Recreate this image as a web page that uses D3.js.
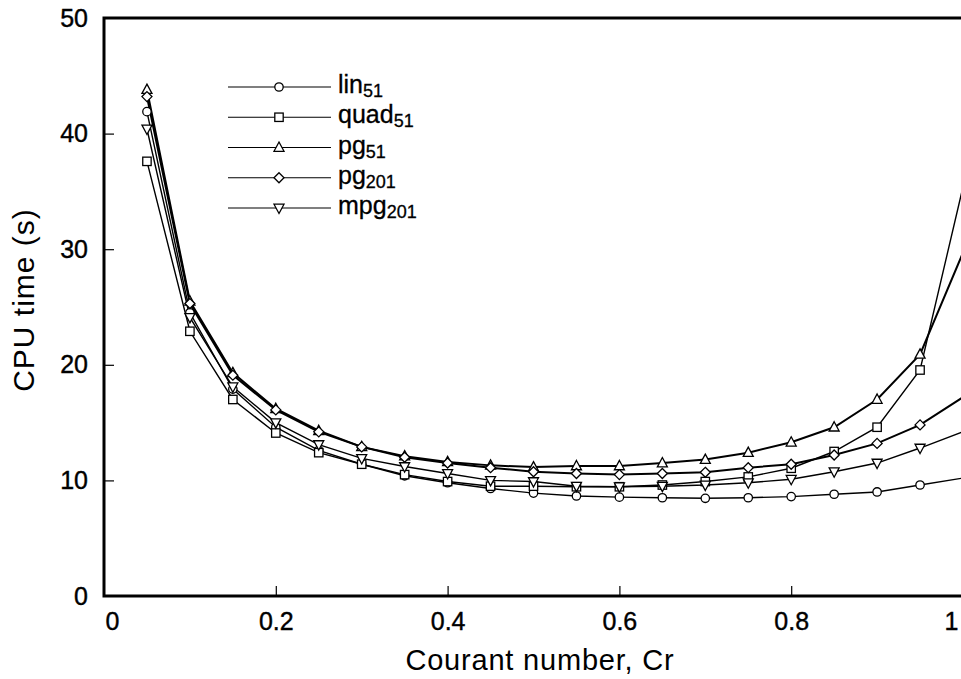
<!DOCTYPE html>
<html>
<head>
<meta charset="utf-8">
<script src="https://cdn.jsdelivr.net/npm/d3@7"></script>
<style>
  body { margin: 0; background: #fff; }
  svg { font-family: "Liberation Sans", Arial, Helvetica, sans-serif; }
</style>
</head>
<body>
<div id="chart"></div>
<script>
// --- data ---------------------------------------------
var courant = [0.05, 0.1, 0.15, 0.2, 0.25, 0.3, 0.35, 0.4, 0.45, 0.5,
               0.55, 0.6, 0.65, 0.7, 0.75, 0.8, 0.85, 0.9, 0.95, 1.0]

var lin51   = [41.9, 24.5, 17.9, 14.6, 12.6, 11.4, 10.4, 9.8, 9.3, 8.9,
               8.65, 8.55, 8.5, 8.45, 8.5, 8.6, 8.8, 9.0, 9.6, 10.2]
var quad51  = [37.6, 22.9, 17.0, 14.1, 12.4, 11.4, 10.5, 9.9, 9.5, 9.5,
               9.45, 9.45, 9.6, 9.9, 10.3, 11.05, 12.5, 14.6, 19.55, 35.4]
var pg51    = [43.8, 25.5, 19.3, 16.2, 14.3, 12.9, 12.1, 11.6, 11.3, 11.15,
               11.25, 11.25, 11.5, 11.8, 12.4, 13.3, 14.6, 17.0, 20.9, 29.7]
var pg201   = [43.2, 25.3, 19.1, 16.1, 14.2, 12.9, 12.0, 11.5, 11.1, 10.75,
               10.6, 10.5, 10.6, 10.7, 11.1, 11.4, 12.2, 13.2, 14.8, 17.2]
var mpg201  = [40.4, 24.1, 18.1, 15.0, 13.1, 11.9, 11.2, 10.6, 10.0, 9.9,
               9.5, 9.45, 9.5, 9.6, 9.8, 10.1, 10.75, 11.5, 12.8, 14.2]

var seriesNames = ["lin", "quad", "pg", "pg", "mpg"]
var seriesSubs  = ["51", "51", "51", "201", "201"]
var seriesMarks = ["circle", "square", "triangle", "diamond", "down"]
var seriesVals  = [lin51, quad51, pg51, pg201, mpg201]

var xTicks = [0, 0.2, 0.4, 0.6, 0.8, 1]
var yTicks = [0, 10, 20, 30, 40, 50]

// --- chart --------------------------------------------
var width = 961, height = 679

var x = d3.scaleLinear().domain([0, 1]).range([104, 963])
var y = d3.scaleLinear().domain([0, 50]).range([596, 18])

var svg = d3.select("#chart").append("svg")
  .attr("width", width)
  .attr("height", height)

svg.append("defs").append("clipPath").attr("id", "plot")
  .append("rect")
    .attr("x", x(0)).attr("y", y(50))
    .attr("width", width - x(0)).attr("height", y(0) - y(50))

// axes (ticks inward, frame drawn separately)
var yAxis = svg.append("g")
  .attr("transform", `translate(${x(0)},0)`)
  .call(d3.axisLeft(y).tickValues(yTicks).tickSize(-10).tickPadding(16).tickFormat(d3.format("d")))
yAxis.select(".domain").remove()
yAxis.selectAll(".tick line").filter(d => d === 0 || d === 50).remove()

var xAxis = svg.append("g")
  .attr("transform", `translate(0,${y(0)})`)
  .call(d3.axisBottom(x).tickValues(xTicks).tickSize(-10).tickPadding(16)
    .tickFormat(d => d === 0 || d === 1 ? d3.format("d")(d) : d3.format(".1f")(d)))
xAxis.select(".domain").remove()
xAxis.selectAll(".tick line").filter(d => d === 0 || d === 1).remove()
xAxis.selectAll(".tick text")
  .attr("dx", d => d === 0 ? 8 : d === 1 ? -12 : 0)

svg.selectAll(".tick line").attr("stroke", "#000").attr("stroke-width", 1.2)
svg.selectAll(".tick text")
  .attr("fill", "#000")
  .attr("stroke", "#000").attr("stroke-width", 0.4)
  .style("font-size", "25px")

// frame: left, bottom, top
svg.append("path")
  .attr("d", `M${width},${y(50)}H${x(0)}V${y(0)}H${width}`)
  .attr("fill", "none")
  .attr("stroke", "#000")
  .attr("stroke-width", 3)

// axis titles
svg.append("text")
  .attr("x", 540).attr("y", 670)
  .attr("text-anchor", "middle")
  .style("font-size", "29px")
  .style("letter-spacing", "0.8px")
  .text("Courant number, Cr")

svg.append("text")
  .attr("transform", "translate(34,300) rotate(-90)")
  .attr("text-anchor", "middle")
  .style("font-size", "30px")
  .style("letter-spacing", "1px")
  .text("CPU time (s)")

// markers
function marker(g, kind) {
  if (kind === "circle") {
    g.append("circle").attr("r", 4.2)
  } else if (kind === "square") {
    g.append("rect").attr("x", -4.2).attr("y", -4.2).attr("width", 8.4).attr("height", 8.4)
  } else if (kind === "triangle") {
    g.append("path").attr("d", "M0,-5.5L5,3.8L-5,3.8Z")
  } else if (kind === "diamond") {
    g.append("path").attr("d", "M0,-5L5,0L0,5L-5,0Z")
  } else {
    g.append("path").attr("d", "M0,5.5L5,-3.8L-5,-3.8Z")
  }
  g.selectAll("*").attr("fill", "#fff").attr("stroke", "#000").attr("stroke-width", 1.3)
}

var line = d3.line().x(d => x(d[0])).y(d => y(d[1]))

var plot = svg.append("g").attr("clip-path", "url(#plot)")

seriesVals.forEach((vals, i) => {
  var pts = courant.map((c, j) => [c, vals[j]])
  plot.append("path")
    .datum(pts)
    .attr("d", line)
    .attr("fill", "none")
    .attr("stroke", "#000")
    .attr("stroke-width", (i === 2 || i === 3) ? 2 : 1.4)
})

// markers whose centre falls off the page are left out, as in the cropped original
seriesVals.forEach((vals, i) => {
  plot.append("g").selectAll("g")
    .data(courant.map((c, j) => [c, vals[j]]).filter(d => x(d[0]) < width))
    .enter().append("g")
      .attr("transform", d => `translate(${x(d[0])},${y(d[1])})`)
      .each(function() { marker(d3.select(this), seriesMarks[i]) })
})

// legend
var legend = svg.append("g")
var legendY = d3.scaleLinear().domain([0, 4]).range([87, 208])

seriesNames.forEach((name, i) => {
  var row = legend.append("g").attr("transform", `translate(0,${legendY(i)})`)
  row.append("line")
    .attr("x1", 228).attr("x2", 331)
    .attr("stroke", "#000").attr("stroke-width", 1.2)
  var m = row.append("g").attr("transform", "translate(279,0)")
  marker(m, seriesMarks[i])
  var t = row.append("text")
    .attr("x", 338).attr("y", 6)
    .attr("stroke", "#000").attr("stroke-width", 0.3)
    .style("font-size", "25px")
  t.append("tspan").text(name)
  t.append("tspan").attr("dy", 4).style("font-size", "18px").text(seriesSubs[i])
})
</script>
</body>
</html>
